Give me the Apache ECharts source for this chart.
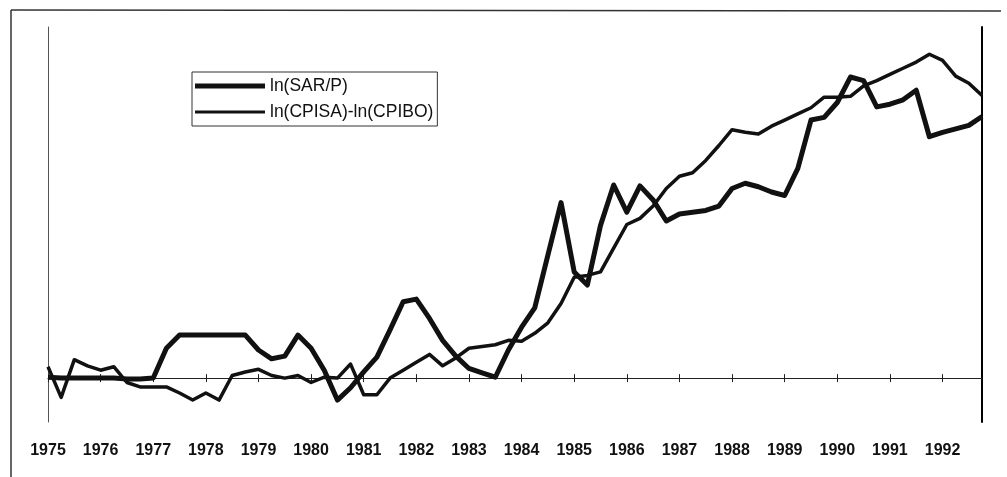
<!DOCTYPE html>
<html><head><meta charset="utf-8">
<script src="https://cdn.jsdelivr.net/npm/echarts@6/dist/echarts.min.js"></script>
<style>html,body{margin:0;padding:0;background:#fff}#c{width:1007px;height:477px}</style>
</head><body><div id="c"></div>
<script>
// Tick labels (one per year, first quarter)
const years = ['1975','1976','1977','1978','1979','1980','1981','1982','1983',
  '1984','1985','1986','1987','1988','1989','1990','1991','1992'];
const quarterNames = ['Q1','Q2','Q3','Q4'];
// Categories: quarterly observations 1975Q1 .. 1992Q4
const categories = [];
years.forEach(y => quarterNames.forEach(q => categories.push(y + ' ' + q)));

// ln(SAR/P) – quarterly values
const sarP = [
  0.001, 0.000, 0.000, 0.000,   // 1975
  0.000, 0.000, -0.001, -0.001, // 1976
  0.000, 0.034, 0.049, 0.049,   // 1977
  0.049, 0.049, 0.049, 0.049,   // 1978
  0.032, 0.022, 0.025, 0.049,   // 1979
  0.034, 0.009, -0.025, -0.011, // 1980
  0.007, 0.024, 0.055, 0.087,   // 1981
  0.090, 0.068, 0.043, 0.025,   // 1982
  0.011, 0.006, 0.001, 0.032,   // 1983
  0.058, 0.080, 0.140, 0.200,   // 1984
  0.121, 0.106, 0.174, 0.220,   // 1985
  0.189, 0.219, 0.203, 0.179,   // 1986
  0.187, 0.189, 0.191, 0.196,   // 1987
  0.216, 0.222, 0.218, 0.212,   // 1988
  0.208, 0.239, 0.294, 0.297,   // 1989
  0.314, 0.343, 0.339, 0.309,   // 1990
  0.312, 0.317, 0.328, 0.275,   // 1991
  0.280, 0.284, 0.288, 0.298    // 1992
];
// ln(CPISA)-ln(CPIBO)
const cpiDiff = [
  0.013, -0.022, 0.021, 0.014,  // 1975
  0.009, 0.013, -0.005, -0.010, // 1976
  -0.010, -0.010, -0.017, -0.025, // 1977
  -0.017, -0.025, 0.003, 0.007, // 1978
  0.010, 0.003, 0.000, 0.003,   // 1979
  -0.005, 0.001, 0.000, 0.016,  // 1980
  -0.019, -0.019, 0.000, 0.009, // 1981
  0.018, 0.027, 0.014, 0.023,   // 1982
  0.034, 0.036, 0.038, 0.043,   // 1983
  0.042, 0.051, 0.063, 0.085,   // 1984
  0.115, 0.117, 0.121, 0.148,   // 1985
  0.175, 0.182, 0.196, 0.216,   // 1986
  0.230, 0.234, 0.248, 0.265,   // 1987
  0.283, 0.280, 0.278, 0.287,   // 1988
  0.294, 0.301, 0.308, 0.320,   // 1989
  0.320, 0.321, 0.333, 0.339,   // 1990
  0.346, 0.353, 0.360, 0.369,   // 1991
  0.362, 0.344, 0.336, 0.322    // 1992
];
const seriesNames = ['ln(SAR/P)', 'ln(CPISA)-ln(CPIBO)'];

const FONT = "'Liberation Sans', Arial, sans-serif";
const INK = '#111';
const chart = echarts.init(document.getElementById('c'), null, {renderer: 'canvas'});
const yearLabel = (v, i) => (i % 4 === 0 ? v.slice(0, 4) : '');
chart.setOption({
  animation: false,
  backgroundColor: '#fff',
  grid: {left: 48, right: 25, top: 27, bottom: 55, containLabel: false},
  legend: {
    data: [
      {name: seriesNames[0], icon: 'path://M0,0L70,0L70,5L0,5Z'},
      {name: seriesNames[1], icon: 'path://M0,0L70,0L70,3L0,3Z'}
    ],
    orient: 'vertical',
    left: 192, top: 72,
    itemWidth: 70, itemHeight: 16, itemGap: 8,
    padding: [5, 4, 5, 3],
    backgroundColor: '#fff',
    borderColor: '#333', borderWidth: 1,
    textStyle: {fontFamily: FONT, fontSize: 17.5, color: INK},
    selectedMode: false
  },
  xAxis: [
    { // zero line with ticks below
      type: 'category', data: categories, boundaryGap: false, gridIndex: 0,
      axisLine: {onZero: true, lineStyle: {color: '#222', width: 1}},
      axisTick: {show: true, interval: 3, length: 4, lineStyle: {color: '#222'}},
      axisLabel: {show: false}
    },
    { // ticks above the zero line
      type: 'category', data: categories, boundaryGap: false, gridIndex: 0,
      position: 'bottom',
      axisLine: {onZero: true, show: false},
      axisTick: {show: true, inside: true, interval: 3, length: 4, lineStyle: {color: '#222'}},
      axisLabel: {show: false}
    },
    { // year labels under the plot
      type: 'category', data: categories, boundaryGap: false, gridIndex: 0,
      position: 'bottom',
      axisLine: {onZero: false, show: false},
      axisTick: {show: false},
      axisLabel: {show: true, interval: 0, formatter: yearLabel, margin: 21,
        fontFamily: FONT, fontSize: 16, fontWeight: 'bold', color: INK}
    }
  ],
  yAxis: [
    {
      type: 'value', min: -0.05, max: 0.4, position: 'left',
      axisLine: {show: true, lineStyle: {color: '#555', width: 1}},
      axisTick: {show: false}, axisLabel: {show: false}, splitLine: {show: false}
    },
    {
      type: 'value', min: -0.05, max: 0.4, position: 'right',
      axisLine: {show: true, lineStyle: {color: '#000', width: 2}},
      axisTick: {show: false}, axisLabel: {show: false}, splitLine: {show: false}
    }
  ],
  series: [
    {
      name: seriesNames[0], type: 'line', data: sarP, xAxisIndex: 0, yAxisIndex: 0,
      symbol: 'none', lineStyle: {color: INK, width: 5, join: 'round'},
      itemStyle: {color: INK}, z: 3
    },
    {
      name: seriesNames[1], type: 'line', data: cpiDiff, xAxisIndex: 0, yAxisIndex: 0,
      symbol: 'none', lineStyle: {color: INK, width: 3.5, join: 'round'},
      itemStyle: {color: INK}, z: 2
    }
  ],
  graphic: [
    {type: 'line', shape: {x1: 11, y1: 10, x2: 1001, y2: 11},
     style: {stroke: '#333', lineWidth: 1.5}},
    {type: 'line', shape: {x1: 11, y1: 10, x2: 11, y2: 477},
     style: {stroke: '#333', lineWidth: 1.5}}
  ]
});
</script>
</body></html>
